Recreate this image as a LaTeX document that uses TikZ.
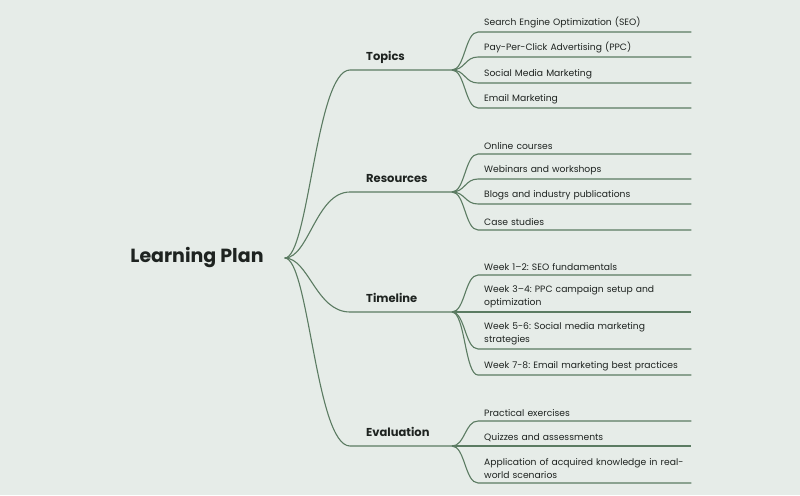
\documentclass[tikz,border=0pt]{standalone}
\usepackage{fontspec}
\setmainfont{Poppins}
\usetikzlibrary{calc}
\definecolor{paper}{HTML}{E6ECE8}
\definecolor{branch}{HTML}{5B7B62}
\definecolor{ink}{HTML}{1E2320}
\tikzset{
  plan/.style={
    text = ink,
    inner sep = 0pt,
    font = \bfseries\fontsize{19}{22}\selectfont
  },
  topic/.style={
    text = ink,
    anchor = base west,
    inner sep = 0pt,
    font = \bfseries\fontsize{11.5}{14}\selectfont
  },
  item/.style={
    text = ink,
    anchor = south west,
    align = left,
    text width = 201pt,
    inner xsep = 6pt,
    inner ysep = 4pt,
    font = \frenchspacing\fontsize{9.2}{13}\selectfont
  },
  link/.style={
    draw = branch,
    line width = 1.1pt
  }
}

\begin{document}
\begin{tikzpicture}[x=1pt,y=-1pt]
  \fill[paper] (0,0) rectangle (800,495);
  \node[plan] (plan) at (197,258) {Learning Plan};
  \coordinate (hub) at ($(plan.east)+(21,0)$);
  % main branches
  \foreach \b/\y/\txt in {topics/70/Topics, resources/192/Resources,
                          timeline/312/Timeline, evaluation/446/Evaluation}{
      \coordinate (\b-in) at (350,\y);
      \coordinate (\b-out) at (452,\y);
      \node[topic] (\b) at ($(\b-in)+(16,-10)$) {\txt};
      \draw[link] (hub) .. controls +(24,0) and +(-34,0) .. (\b-in) -- (\b-out);
    }
  % leaves
  \foreach \b/\y/\txt [count=\i] in {
      topics/32/Search Engine Optimization (SEO),
      topics/57/Pay-Per-Click Advertising (PPC),
      topics/83/Social Media Marketing,
      topics/108/Email Marketing,
      resources/154/Online courses,
      resources/179/Webinars and workshops,
      resources/204/Blogs and industry publications,
      resources/230/Case studies,
      timeline/275/Week 1–2: SEO fundamentals,
      timeline/312/Week 3–4: PPC campaign setup and\\optimization,
      timeline/349/Week 5-6: Social media marketing\\strategies,
      timeline/375/Week 7-8: Email marketing best practices,
      evaluation/421/Practical exercises,
      evaluation/446/Quizzes and assessments,
      evaluation/483/Application of acquired knowledge in real-\\world scenarios}{
      \node[item] (leaf\i) at (478,\y) {\txt};
      \draw[link] (\b-out) .. controls +(13,0) and +(-13,0) .. (leaf\i.south west) -- (leaf\i.south east);
    }
\end{tikzpicture}
\end{document}
